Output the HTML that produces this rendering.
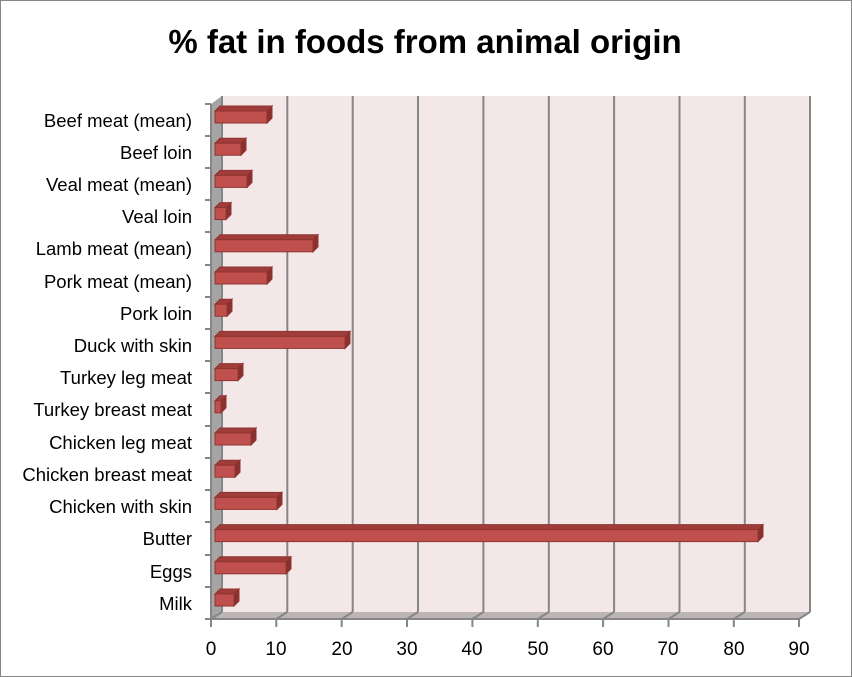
<!DOCTYPE html><html><head><style>body{margin:0;background:#fff}svg{display:block}</style></head><body>
<svg width="852" height="677" xmlns="http://www.w3.org/2000/svg" font-family="Liberation Sans, sans-serif">
<defs>
<g id="cap"></g>
</defs>
<rect x="0.5" y="0.5" width="851" height="676" fill="#fff" stroke="#868686"/>
<text x="425" y="53" text-anchor="middle" font-size="33" font-weight="bold">% fat in foods from animal origin</text>
<polygon points="222,96 810,96 810,612 222,612" fill="#F4E7E7"/>
<polygon points="211,104 222,96 222,612 211,619" fill="#A5A5A5"/>
<polygon points="211,619 222,612 810,612 799,619" fill="#BDB5B5"/>
<g stroke="#868686" stroke-width="2" fill="none">
<path d="M222,96V612 M287.3,96V612 M352.7,96V612 M418,96V612 M483.4,96V612 M548.8,96V612 M614.1,96V612 M679.5,96V612 M744.8,96V612 M810,96V612"/>
<path d="M211,619L222,612 M276.3,619L287.3,612 M341.7,619L352.7,612 M407,619L418,612 M472.4,619L483.4,612 M537.8,619L548.8,612 M603.1,619L614.1,612 M668.5,619L679.5,612 M733.8,619L744.8,612 M799,619L810,612"/>
<path d="M211,619H799 M211,104V619"/>
<path d="M211,619v8 M276.3,619v8 M341.7,619v8 M407,619v8 M472.4,619v8 M537.8,619v8 M603.1,619v8 M668.5,619v8 M733.8,619v8 M799,619v8"/>
<path d="M205,104h6 M205,136h6 M205,168h6 M205,200h6 M205,232h6 M205,265h6 M205,297h6 M205,329h6 M205,361h6 M205,393h6 M205,426h6 M205,458h6 M205,490h6 M205,522h6 M205,555h6 M205,587h6 M205,619h6"/>
</g>
<g font-size="19" text-anchor="middle">
<text x="211" y="655">0</text><text x="276" y="655">10</text><text x="342" y="655">20</text><text x="407" y="655">30</text><text x="472" y="655">40</text><text x="538" y="655">50</text><text x="603" y="655">60</text><text x="668" y="655">70</text><text x="734" y="655">80</text><text x="799" y="655">90</text>
</g>
<g font-size="18.5" text-anchor="end">
<text x="192" y="127">Beef meat (mean)</text>
<text x="192" y="159">Beef loin</text>
<text x="192" y="191">Veal meat (mean)</text>
<text x="192" y="223">Veal loin</text>
<text x="192" y="255">Lamb meat (mean)</text>
<text x="192" y="288">Pork meat (mean)</text>
<text x="192" y="320">Pork loin</text>
<text x="192" y="352">Duck with skin</text>
<text x="192" y="384">Turkey leg meat</text>
<text x="192" y="416">Turkey breast meat</text>
<text x="192" y="449">Chicken leg meat</text>
<text x="192" y="481">Chicken breast meat</text>
<text x="192" y="513">Chicken with skin</text>
<text x="192" y="545">Butter</text>
<text x="192" y="578">Eggs</text>
<text x="192" y="610">Milk</text>
</g>
<g stroke="#8E3431" stroke-width="1">
<g transform="translate(0,111)"><polygon points="215,0 220,-5 272,-5 267,0" fill="#A03C3A"/><polygon points="267,0 272,-5 272,7 267,12" fill="#8A302E"/><rect x="215" y="0" width="52" height="12" fill="#C0504D"/></g>
<g transform="translate(0,143.2)"><polygon points="215,0 220,-5 246,-5 241,0" fill="#A03C3A"/><polygon points="241,0 246,-5 246,7 241,12" fill="#8A302E"/><rect x="215" y="0" width="26" height="12" fill="#C0504D"/></g>
<g transform="translate(0,175.4)"><polygon points="215,0 220,-5 252,-5 247,0" fill="#A03C3A"/><polygon points="247,0 252,-5 252,7 247,12" fill="#8A302E"/><rect x="215" y="0" width="32" height="12" fill="#C0504D"/></g>
<g transform="translate(0,207.6)"><polygon points="215,0 220,-5 231,-5 226,0" fill="#A03C3A"/><polygon points="226,0 231,-5 231,7 226,12" fill="#8A302E"/><rect x="215" y="0" width="11" height="12" fill="#C0504D"/></g>
<g transform="translate(0,239.8)"><polygon points="215,0 220,-5 318,-5 313,0" fill="#A03C3A"/><polygon points="313,0 318,-5 318,7 313,12" fill="#8A302E"/><rect x="215" y="0" width="98" height="12" fill="#C0504D"/></g>
<g transform="translate(0,272)"><polygon points="215,0 220,-5 272,-5 267,0" fill="#A03C3A"/><polygon points="267,0 272,-5 272,7 267,12" fill="#8A302E"/><rect x="215" y="0" width="52" height="12" fill="#C0504D"/></g>
<g transform="translate(0,304.2)"><polygon points="215,0 220,-5 232,-5 227,0" fill="#A03C3A"/><polygon points="227,0 232,-5 232,7 227,12" fill="#8A302E"/><rect x="215" y="0" width="12" height="12" fill="#C0504D"/></g>
<g transform="translate(0,336.4)"><polygon points="215,0 220,-5 350,-5 345,0" fill="#A03C3A"/><polygon points="345,0 350,-5 350,7 345,12" fill="#8A302E"/><rect x="215" y="0" width="130" height="12" fill="#C0504D"/></g>
<g transform="translate(0,368.6)"><polygon points="215,0 220,-5 243,-5 238,0" fill="#A03C3A"/><polygon points="238,0 243,-5 243,7 238,12" fill="#8A302E"/><rect x="215" y="0" width="23" height="12" fill="#C0504D"/></g>
<g transform="translate(0,400.8)"><polygon points="215,0 220,-5 226,-5 221,0" fill="#A03C3A"/><polygon points="221,0 226,-5 226,7 221,12" fill="#8A302E"/><rect x="215" y="0" width="6" height="12" fill="#C0504D"/></g>
<g transform="translate(0,433)"><polygon points="215,0 220,-5 256,-5 251,0" fill="#A03C3A"/><polygon points="251,0 256,-5 256,7 251,12" fill="#8A302E"/><rect x="215" y="0" width="36" height="12" fill="#C0504D"/></g>
<g transform="translate(0,465.2)"><polygon points="215,0 220,-5 240,-5 235,0" fill="#A03C3A"/><polygon points="235,0 240,-5 240,7 235,12" fill="#8A302E"/><rect x="215" y="0" width="20" height="12" fill="#C0504D"/></g>
<g transform="translate(0,497.4)"><polygon points="215,0 220,-5 282,-5 277,0" fill="#A03C3A"/><polygon points="277,0 282,-5 282,7 277,12" fill="#8A302E"/><rect x="215" y="0" width="62" height="12" fill="#C0504D"/></g>
<g transform="translate(0,529.6)"><polygon points="215,0 220,-5 763,-5 758,0" fill="#A03C3A"/><polygon points="758,0 763,-5 763,7 758,12" fill="#8A302E"/><rect x="215" y="0" width="543" height="12" fill="#C0504D"/></g>
<g transform="translate(0,561.8)"><polygon points="215,0 220,-5 291,-5 286,0" fill="#A03C3A"/><polygon points="286,0 291,-5 291,7 286,12" fill="#8A302E"/><rect x="215" y="0" width="71" height="12" fill="#C0504D"/></g>
<g transform="translate(0,594)"><polygon points="215,0 220,-5 239,-5 234,0" fill="#A03C3A"/><polygon points="234,0 239,-5 239,7 234,12" fill="#8A302E"/><rect x="215" y="0" width="19" height="12" fill="#C0504D"/></g>
</g>
</svg></body></html>
